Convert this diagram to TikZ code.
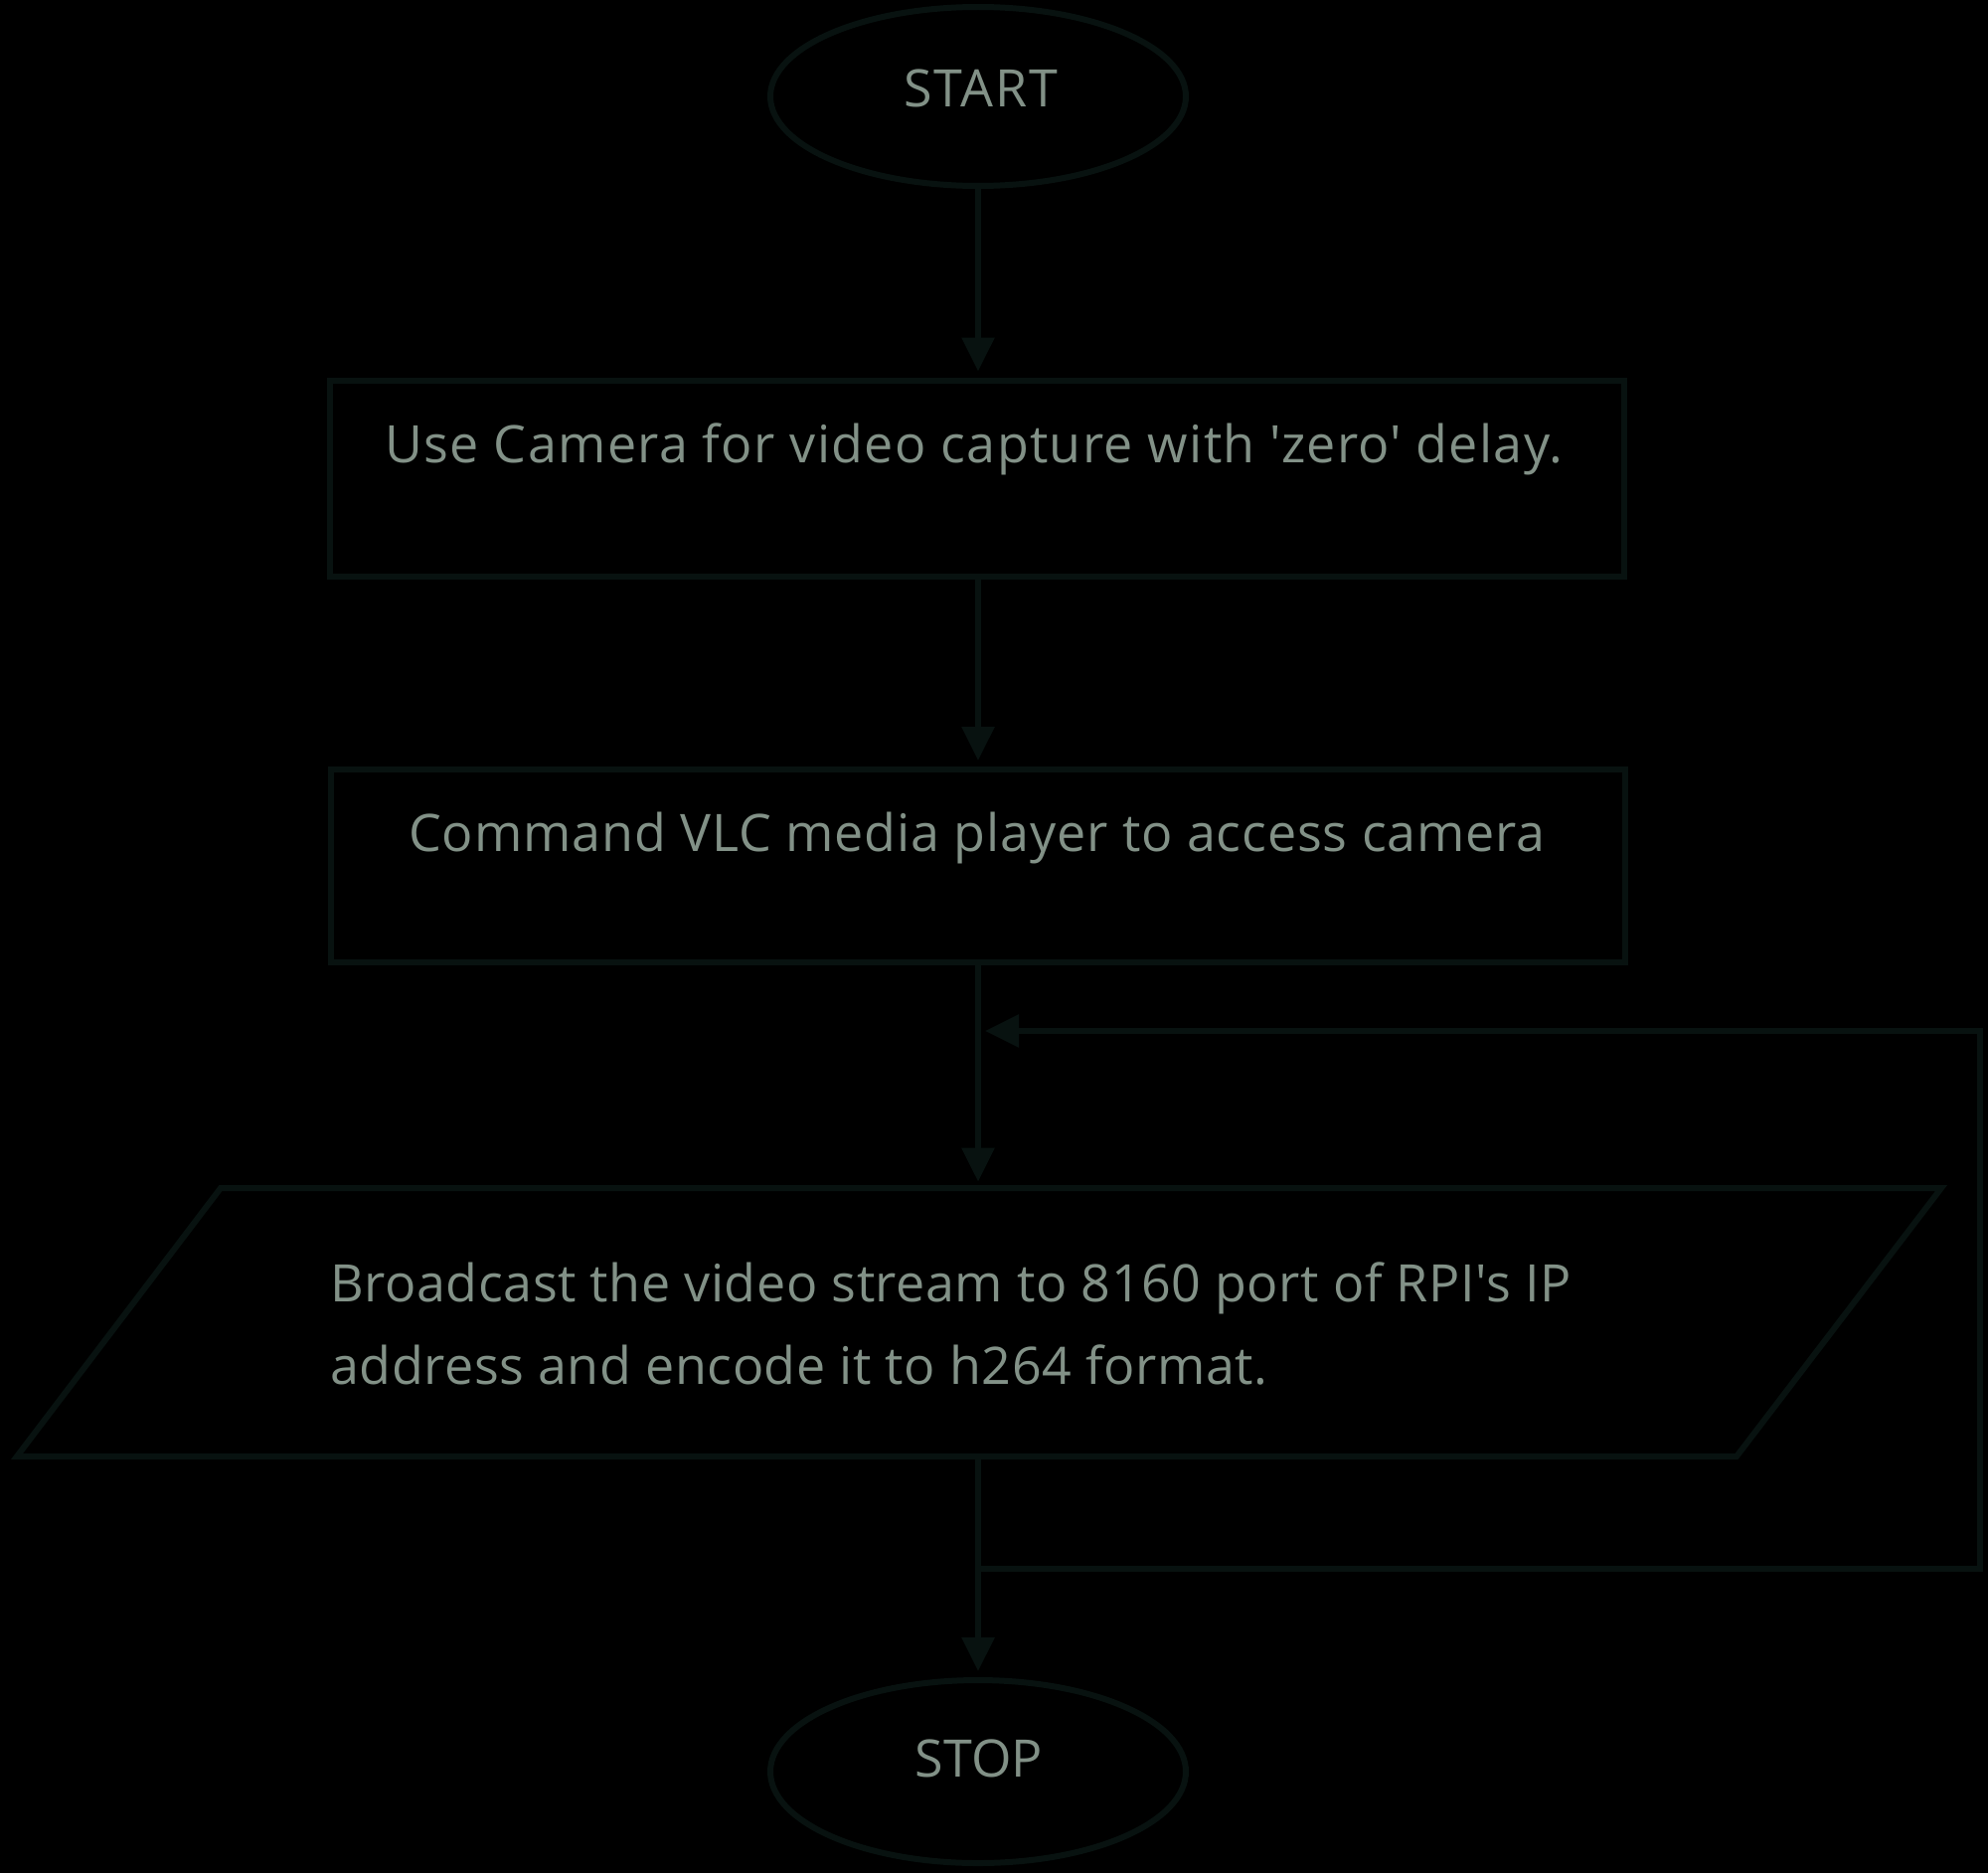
\documentclass[tikz,border=0pt]{standalone}
\usepackage{fontspec}
\setmainfont{Open Sans}
\usetikzlibrary{shapes.geometric,arrows.meta}
\definecolor{ln}{RGB}{8,18,16}
\definecolor{tx}{RGB}{130,145,135}
\begin{document}
\begin{tikzpicture}[x=0.5pt,y=-0.5pt,
  line/.style={draw=ln,line width=3pt},
  arr/.style={line,-{Triangle[length=17pt,width=16pt]},shorten >=3pt},
  term/.style={ellipse,line,minimum width=209pt,inner sep=0pt},
  proc/.style={rectangle,line,minimum width=651pt,inner sep=0pt},
  lbl/.style={text=tx,font=\fontsize{26}{31}\selectfont,inner sep=0pt}]
\fill[black] (0,0) rectangle (2000,1884);
\useasboundingbox (0,0) rectangle (2000,1884);

\node[term,minimum height=90pt] (start) at (984,97) {};
\node[lbl,anchor=base] (startlbl) at (987,108) {\addfontfeature{LetterSpace=3.5}START};

\node[proc,minimum height=98.5pt] (box1) at (983,481) {};
\node[lbl,anchor=base] (box1lbl) at (980,465) {\addfontfeature{LetterSpace=2.6}Use Camera for video capture with \textquotesingle zero\textquotesingle\ delay.};

\node[proc,minimum height=97pt] (box2) at (983.5,871) {};
\node[lbl,anchor=base] (box2lbl) at (983,856) {\addfontfeature{LetterSpace=1.7}Command VLC media player to access camera};

\draw[line] (222,1195) -- (1953,1195) -- (1747,1465) -- (17,1465) -- cycle;
\node[minimum width=0pt,minimum height=135pt,inner sep=0pt] (para) at (984,1330) {};
\node[lbl,anchor=base west] (paralbla) at (332,1309) {\addfontfeature{LetterSpace=1.1}Broadcast the video stream to 8160 port of RPI\textquotesingle s IP};
\node[lbl,anchor=base west] (paralblb) at (332,1392) {\addfontfeature{LetterSpace=1.1}address and encode it to h264 format.};

\node[term,minimum height=92pt] (stop) at (984,1782) {};
\node[lbl,anchor=base] (stoplbl) at (985,1787) {STOP};

\coordinate (split) at (984,1578);
\coordinate (loopr) at (1992,1037);
\coordinate (join) at (984,1037);

\draw[arr] (start.south) -- (start.south |- box1.north);
\draw[arr] (box1.south -| start.south) -- (start.south |- box2.north);
\draw[arr] (box2.south -| start.south) -- (para.north);
\draw[arr] (para.south) -- (stop.north);
\draw[arr,shorten >=3.5pt] (split) -| (loopr) -- (join);
\end{tikzpicture}
\end{document}
